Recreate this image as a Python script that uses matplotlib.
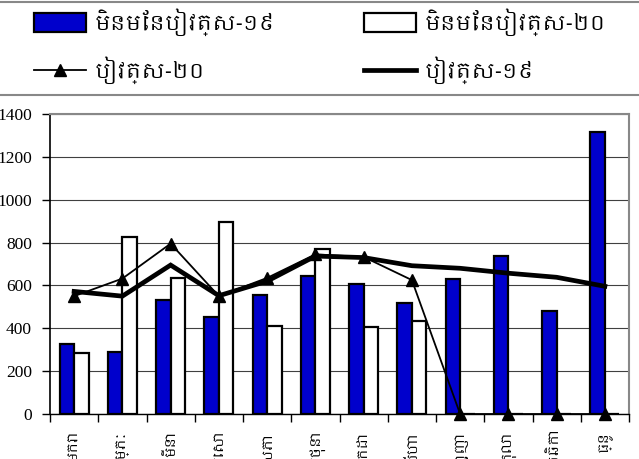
import matplotlib
matplotlib.use("Agg")
import matplotlib.pyplot as plt
from matplotlib import font_manager
from matplotlib.lines import Line2D
import numpy as np

# months (Khmer)
months = ['មករា', 'កុម្ភៈ', 'មីនា', 'មេសា', 'ឧសភា', 'មិថុនា',
          'កក្កដា', 'សីហា', 'កញ្ញា', 'តុលា', 'វិច្ឆិកា', 'ធ្នូ']

non_salary_19 = [325, 290, 530, 455, 555, 645, 605, 520, 628, 737, 482, 1316]
non_salary_20 = [287, 828, 633, 897, 410, 770, 405, 433, 0, 0, 0, 0]
salary_20 = [550, 632, 795, 550, 635, 745, 733, 625, 0, 0, 0, 0]
salary_19 = [572, 550, 695, 552, 620, 737, 730, 692, 680, 657, 638, 596]

lbl_ns19 = 'មិនមែនបៀវត្ស-១៩'
lbl_ns20 = 'មិនមែនបៀវត្ស-២០'
lbl_s20 = 'បៀវត្ស-២០'
lbl_s19 = 'បៀវត្ស-១៩'

# look for any font that can draw Khmer
khmer = sorted({f.name for f in font_manager.fontManager.ttflist if 'khmer' in f.name.lower()})
kfam = khmer + ['Noto Sans', 'DejaVu Sans']

fig = plt.figure(figsize=(6.39, 4.59), dpi=100)
ax = fig.add_axes([50 / 639, 45 / 459, 579 / 639, 300 / 459])

x = np.arange(len(months))
w = 0.3
b19 = ax.bar(x - w / 2, non_salary_19, w, color='#0000cc', edgecolor='black', linewidth=1.6, zorder=3)
b20 = ax.bar(x + w / 2, non_salary_20, w, color='white', edgecolor='black', linewidth=1.6, zorder=3)
l19, = ax.plot(x, salary_19, color='black', lw=3.4, zorder=4, solid_joinstyle='miter')
l20, = ax.plot(x, salary_20, color='black', lw=1.3, marker='^', ms=9, zorder=5, clip_on=False)

ax.set_xlim(-0.5, 11.5)
ax.set_ylim(0, 1400)
ax.set_yticks(range(0, 1401, 200))
ax.yaxis.grid(True, color='#404040', lw=0.8, zorder=0)
ax.set_axisbelow(True)

ax.set_xticks(x)
ax.set_xticklabels(months, rotation=90, family=kfam, fontsize=10, va='top')
ax.set_xticks(np.arange(-0.5, 12, 1), minor=True)
ax.tick_params(axis='x', which='major', length=0, pad=12)
ax.tick_params(axis='x', which='minor', length=6, width=1, direction='out')
ax.tick_params(axis='y', length=6, width=1, pad=7, labelsize=12.5)
for t in ax.get_yticklabels():
    t.set_family('Liberation Serif')

for s in ['top', 'right']:
    ax.spines[s].set_color('#888888')
    ax.spines[s].set_linewidth(1.5)
ax.spines['left'].set_linewidth(1.2)
ax.spines['bottom'].set_linewidth(1.0)

# legend box lines across the top
fig.add_artist(Line2D([0, 1], [1 - 1.5 / 459, 1 - 1.5 / 459], color='#888888', lw=1.5))
fig.add_artist(Line2D([0, 1], [1 - 95 / 459, 1 - 95 / 459], color='#888888', lw=1.5))

leg_kw = dict(loc='upper left', frameon=False, borderpad=0, borderaxespad=0,
              handlelength=2.5, handleheight=1.05, handletextpad=0.42,
              labelspacing=1.0, prop={'family': kfam, 'size': 15})
leg1 = fig.legend([b19, l20], [lbl_ns19, lbl_s20],
                  bbox_to_anchor=(34 / 639, 1 - 8 / 459), **leg_kw)
leg2 = fig.legend([b20, l19], [lbl_ns20, lbl_s19],
                  bbox_to_anchor=(364 / 639, 1 - 8 / 459), **leg_kw)
for leg in (leg1, leg2):
    for p in leg.get_patches():
        p.set_linewidth(1.6)

fig.savefig('out.png', dpi=100)
